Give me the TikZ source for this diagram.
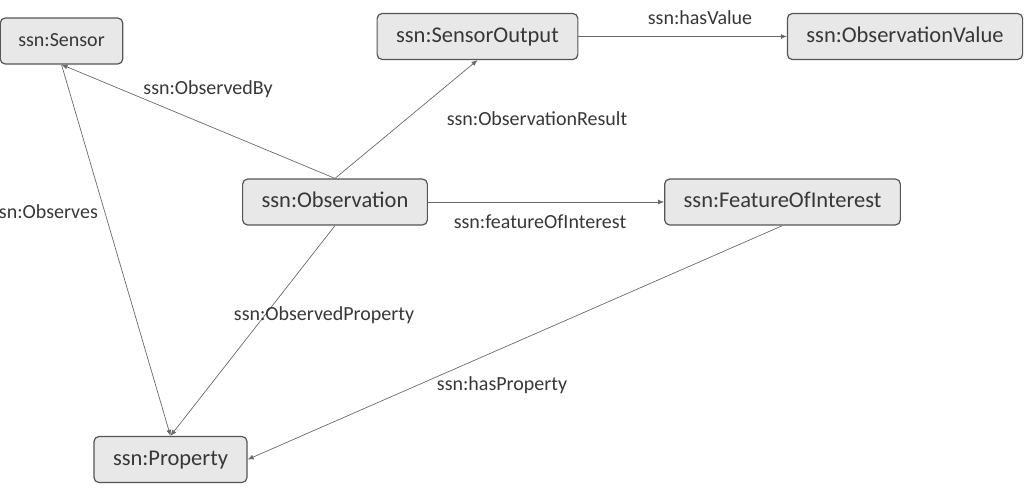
\documentclass[tikz,border=0pt]{standalone}
\usepackage{fontspec}
\setmainfont{Carlito}
\usetikzlibrary{arrows.meta}

\definecolor{boxfill}{RGB}{232,232,232}
\definecolor{boxline}{RGB}{85,85,85}
\definecolor{edgeline}{RGB}{105,105,105}
\definecolor{textgray}{RGB}{55,55,55}

\begin{document}
\begin{tikzpicture}[x=1pt, y=-1pt,
	class/.style={draw=boxline, line width=1.2pt, fill=boxfill, rounded corners=5pt,
		minimum height=46pt, inner xsep=19pt, text=textgray,
		text height=16pt, text depth=5pt, font=\fontsize{22.5}{27}\selectfont},
	relation/.style={draw=edgeline, line width=0.7pt, -{Latex[length=6pt, width=5pt]}},
	rellabel/.style={text=textgray, inner sep=0pt, text height=14pt, text depth=4pt,
		font=\fontsize{20}{24}\selectfont}]
	\useasboundingbox (0, 0) rectangle (1027, 490);

	% classes
	\foreach \name/\x/\y/\txt in {
		output/477.5/36.5/SensorOutput,
		value/905/36.5/ObservationValue,
		obs/335/202/Observation,
		feature/782.5/202/FeatureOfInterest,
		property/170.5/459.5/Property}{
		\node[class] (\name) at (\x, \y) {ssn:\txt};
	}
	\node[class, font=\fontsize{20}{24}\selectfont, inner xsep=18pt] (sensor) at (61.5, 41) {ssn:Sensor};

	% relations
	\foreach \from/\to in {
		obs.north/sensor.south,
		obs.north/output.south,
		output.east/value.west,
		obs.east/feature.west,
		sensor.south/property.north,
		obs.south/property.north,
		feature.south/property.east}{
		\draw[relation] (\from) -- (\to);
	}

	% relation labels
	\foreach \name/\x/\y/\txt in {
		observedby/208/89/ObservedBy,
		result/537/120/ObservationResult,
		hasvalue/700/19/hasValue,
		foi/540/223/featureOfInterest,
		observes/44.5/213/Observes,
		obsprop/324/315/ObservedProperty,
		hasprop/502/385/hasProperty}{
		\node[rellabel] (\name) at (\x, \y) {ssn:\txt};
	}
\end{tikzpicture}
\end{document}
